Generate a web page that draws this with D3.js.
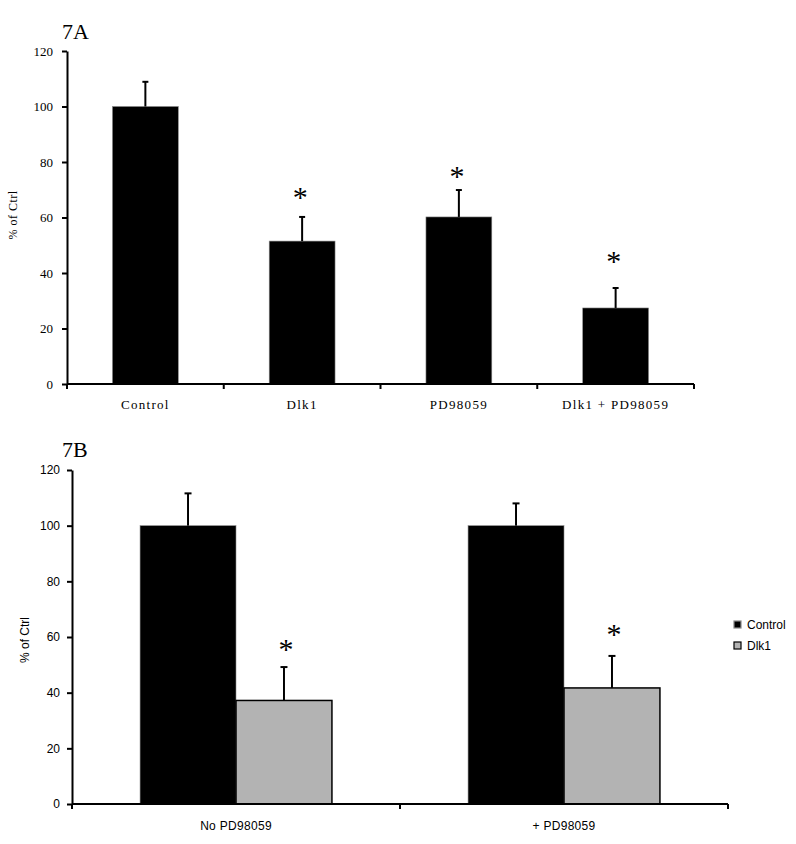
<!DOCTYPE html>
<html>
<head>
<meta charset="utf-8">
<script src="https://cdn.jsdelivr.net/npm/d3@7"></script>
<style>
  body { margin: 0; background: #fff; }
  svg { display: block; }
</style>
</head>
<body>
<div id="chart"></div>
<script>
// panel A data
const topCategories = ["Control", "Dlk1", "PD98059", "Dlk1 + PD98059"];
const topValues = [100, 51.5, 60.2, 27.4];
const topErrors = [8.9, 8.7, 9.7, 7.2];
const topStars = [null, 68.8, 76.4, 45.8];

// panel B data
const bottomGroups = ["No PD98059", "+ PD98059"];
const bottomSeries = ["Control", "Dlk1"];
const controlValues = [100, 100];
const controlErrors = [11.6, 8];
const dlk1Values = [37.2, 41.7];
const dlk1Errors = [12, 11.5];
const dlk1Stars = [57, 62.5];

const yTicks = [0, 20, 40, 60, 80, 100, 120];

const serif = "'Liberation Serif', 'Times New Roman', serif";
const sans = "'Liberation Sans', Arial, sans-serif";
const grey = "#b3b3b3";

const svg = d3.select("#chart").append("svg")
    .attr("width", 796).attr("height", 844);

// draws an upward error bar with a small cap
function errorBar(g, x, y0, y1, capW) {
    g.append("line").attr("x1", x).attr("x2", x).attr("y1", y0).attr("y2", y1)
        .attr("stroke", "#000").attr("stroke-width", 2);
    g.append("line").attr("x1", x - capW / 2).attr("x2", x + capW / 2).attr("y1", y1).attr("y2", y1)
        .attr("stroke", "#000").attr("stroke-width", 2);
}

function star(g, x, y) {
    g.append("text").attr("x", x).attr("y", y + 14)
        .attr("text-anchor", "middle")
        .style("font-family", serif).style("font-size", "30px")
        .text("*");
}

function styleAxis(ax, font, size) {
    ax.select(".domain").attr("stroke", "#000").attr("stroke-width", 2);
    ax.selectAll(".tick line").attr("stroke", "#000").attr("stroke-width", 2);
    ax.selectAll("text").style("font-family", font).style("font-size", size).attr("fill", "#000");
}

// ---------- 7A ----------
{
    const g = svg.append("g");
    const y = d3.scaleLinear().domain([0, 120]).range([384, 51]);
    const x = d3.scaleBand().domain(topCategories).range([67, 694])
        .paddingInner(0.58).paddingOuter(0.29);

    g.append("text").attr("x", 62).attr("y", 39)
        .style("font-family", serif).style("font-size", "22px").text("7A");

    g.selectAll("rect.bar").data(topCategories).enter().append("rect")
        .attr("class", "bar")
        .attr("x", d => x(d))
        .attr("y", (d, i) => y(topValues[i]))
        .attr("width", x.bandwidth())
        .attr("height", (d, i) => y(0) - y(topValues[i]))
        .attr("fill", "#000").attr("stroke", "#888").attr("stroke-width", 0.6);

    topCategories.forEach((d, i) => {
        const cx = x(d) + x.bandwidth() / 2;
        errorBar(g, cx, y(topValues[i]), y(topValues[i] + topErrors[i]), 6);
        if (topStars[i] != null) star(g, cx - 2, y(topStars[i]));
    });

    const yAx = g.append("g").attr("transform", "translate(67,0)")
        .call(d3.axisLeft(y).tickValues(yTicks).tickSize(5).tickPadding(9).tickSizeOuter(0));
    styleAxis(yAx, serif, "13px");

    // x axis: ticks at band boundaries
    const xAx = g.append("g").attr("transform", "translate(0,384)");
    xAx.append("line").attr("x1", 67).attr("x2", 694).attr("stroke", "#000").attr("stroke-width", 2);
    const step = x.step();
    d3.range(topCategories.length + 1).forEach(k => {
        const tx = 67 + k * step;
        xAx.append("line").attr("x1", tx).attr("x2", tx).attr("y1", 0).attr("y2", 5)
            .attr("stroke", "#000").attr("stroke-width", 2);
    });
    xAx.selectAll("text").data(topCategories).enter().append("text")
        .attr("x", d => x(d) + x.bandwidth() / 2)
        .attr("y", 25)
        .attr("text-anchor", "middle")
        .style("font-family", serif).style("font-size", "13px").style("letter-spacing", "1.3px")
        .text(d => d);

    g.append("text")
        .attr("transform", "translate(17,215) rotate(-90)")
        .attr("text-anchor", "middle")
        .style("font-family", serif).style("font-size", "12px").style("letter-spacing", "0.5px")
        .text("% of Ctrl");
}

// ---------- 7B ----------
{
    const g = svg.append("g");
    const y = d3.scaleLinear().domain([0, 120]).range([804, 470]);
    const x0 = d3.scaleBand().domain(bottomGroups).range([72, 728])
        .paddingInner(0.415).paddingOuter(0.2075);
    const x1 = d3.scaleBand().domain(bottomSeries).range([0, x0.bandwidth()]);
    const seriesValues = [controlValues, dlk1Values];
    const seriesErrors = [controlErrors, dlk1Errors];
    const seriesFill = ["#000", grey];
    const seriesStroke = ["#888", "#000"];

    g.append("text").attr("x", 62).attr("y", 457)
        .style("font-family", serif).style("font-size", "22px").text("7B");

    bottomGroups.forEach((grp, gi) => {
        bottomSeries.forEach((s, si) => {
            const v = seriesValues[si][gi];
            g.append("rect")
                .attr("x", x0(grp) + x1(s))
                .attr("y", y(v))
                .attr("width", x1.bandwidth())
                .attr("height", y(0) - y(v))
                .attr("fill", seriesFill[si])
                .attr("stroke", seriesStroke[si])
                .attr("stroke-width", si === 1 ? 1.5 : 0.6);
        });
        bottomSeries.forEach((s, si) => {
            const v = seriesValues[si][gi];
            const cx = x0(grp) + x1(s) + x1.bandwidth() / 2;
            errorBar(g, cx, y(v), y(v + seriesErrors[si][gi]), 7);
        });
        const sx = x0(grp) + x1("Dlk1") + x1.bandwidth() / 2;
        star(g, sx + 2, y(dlk1Stars[gi]));
    });

    const yAx = g.append("g").attr("transform", "translate(72,0)")
        .call(d3.axisLeft(y).tickValues(yTicks).tickSize(5).tickPadding(7).tickSizeOuter(0));
    styleAxis(yAx, sans, "12px");

    const xAx = g.append("g").attr("transform", "translate(0,804)");
    xAx.append("line").attr("x1", 72).attr("x2", 728).attr("stroke", "#000").attr("stroke-width", 2);
    d3.range(bottomGroups.length + 1).forEach(k => {
        const tx = 72 + k * x0.step();
        xAx.append("line").attr("x1", tx).attr("x2", tx).attr("y1", 0).attr("y2", 5)
            .attr("stroke", "#000").attr("stroke-width", 2);
    });
    xAx.selectAll("text").data(bottomGroups).enter().append("text")
        .attr("x", d => x0(d) + x0.bandwidth() / 2)
        .attr("y", 26)
        .attr("text-anchor", "middle")
        .style("font-family", sans).style("font-size", "12px").style("letter-spacing", "0.3px")
        .text(d => d);

    g.append("text")
        .attr("transform", "translate(29,640) rotate(-90)")
        .attr("text-anchor", "middle")
        .style("font-family", sans).style("font-size", "12px")
        .text("% of Ctrl");

    // legend
    const lg = g.append("g").attr("transform", "translate(734,621)");
    bottomSeries.forEach((s, si) => {
        lg.append("rect").attr("x", 0).attr("y", si * 21).attr("width", 7).attr("height", 7)
            .attr("fill", seriesFill[si]).attr("stroke", si === 1 ? "#000" : "#888").attr("stroke-width", 1.2);
        lg.append("text").attr("x", 13).attr("y", si * 21 + 8)
            .style("font-family", sans).style("font-size", "12px")
            .text(s);
    });
}
</script>
</body>
</html>
